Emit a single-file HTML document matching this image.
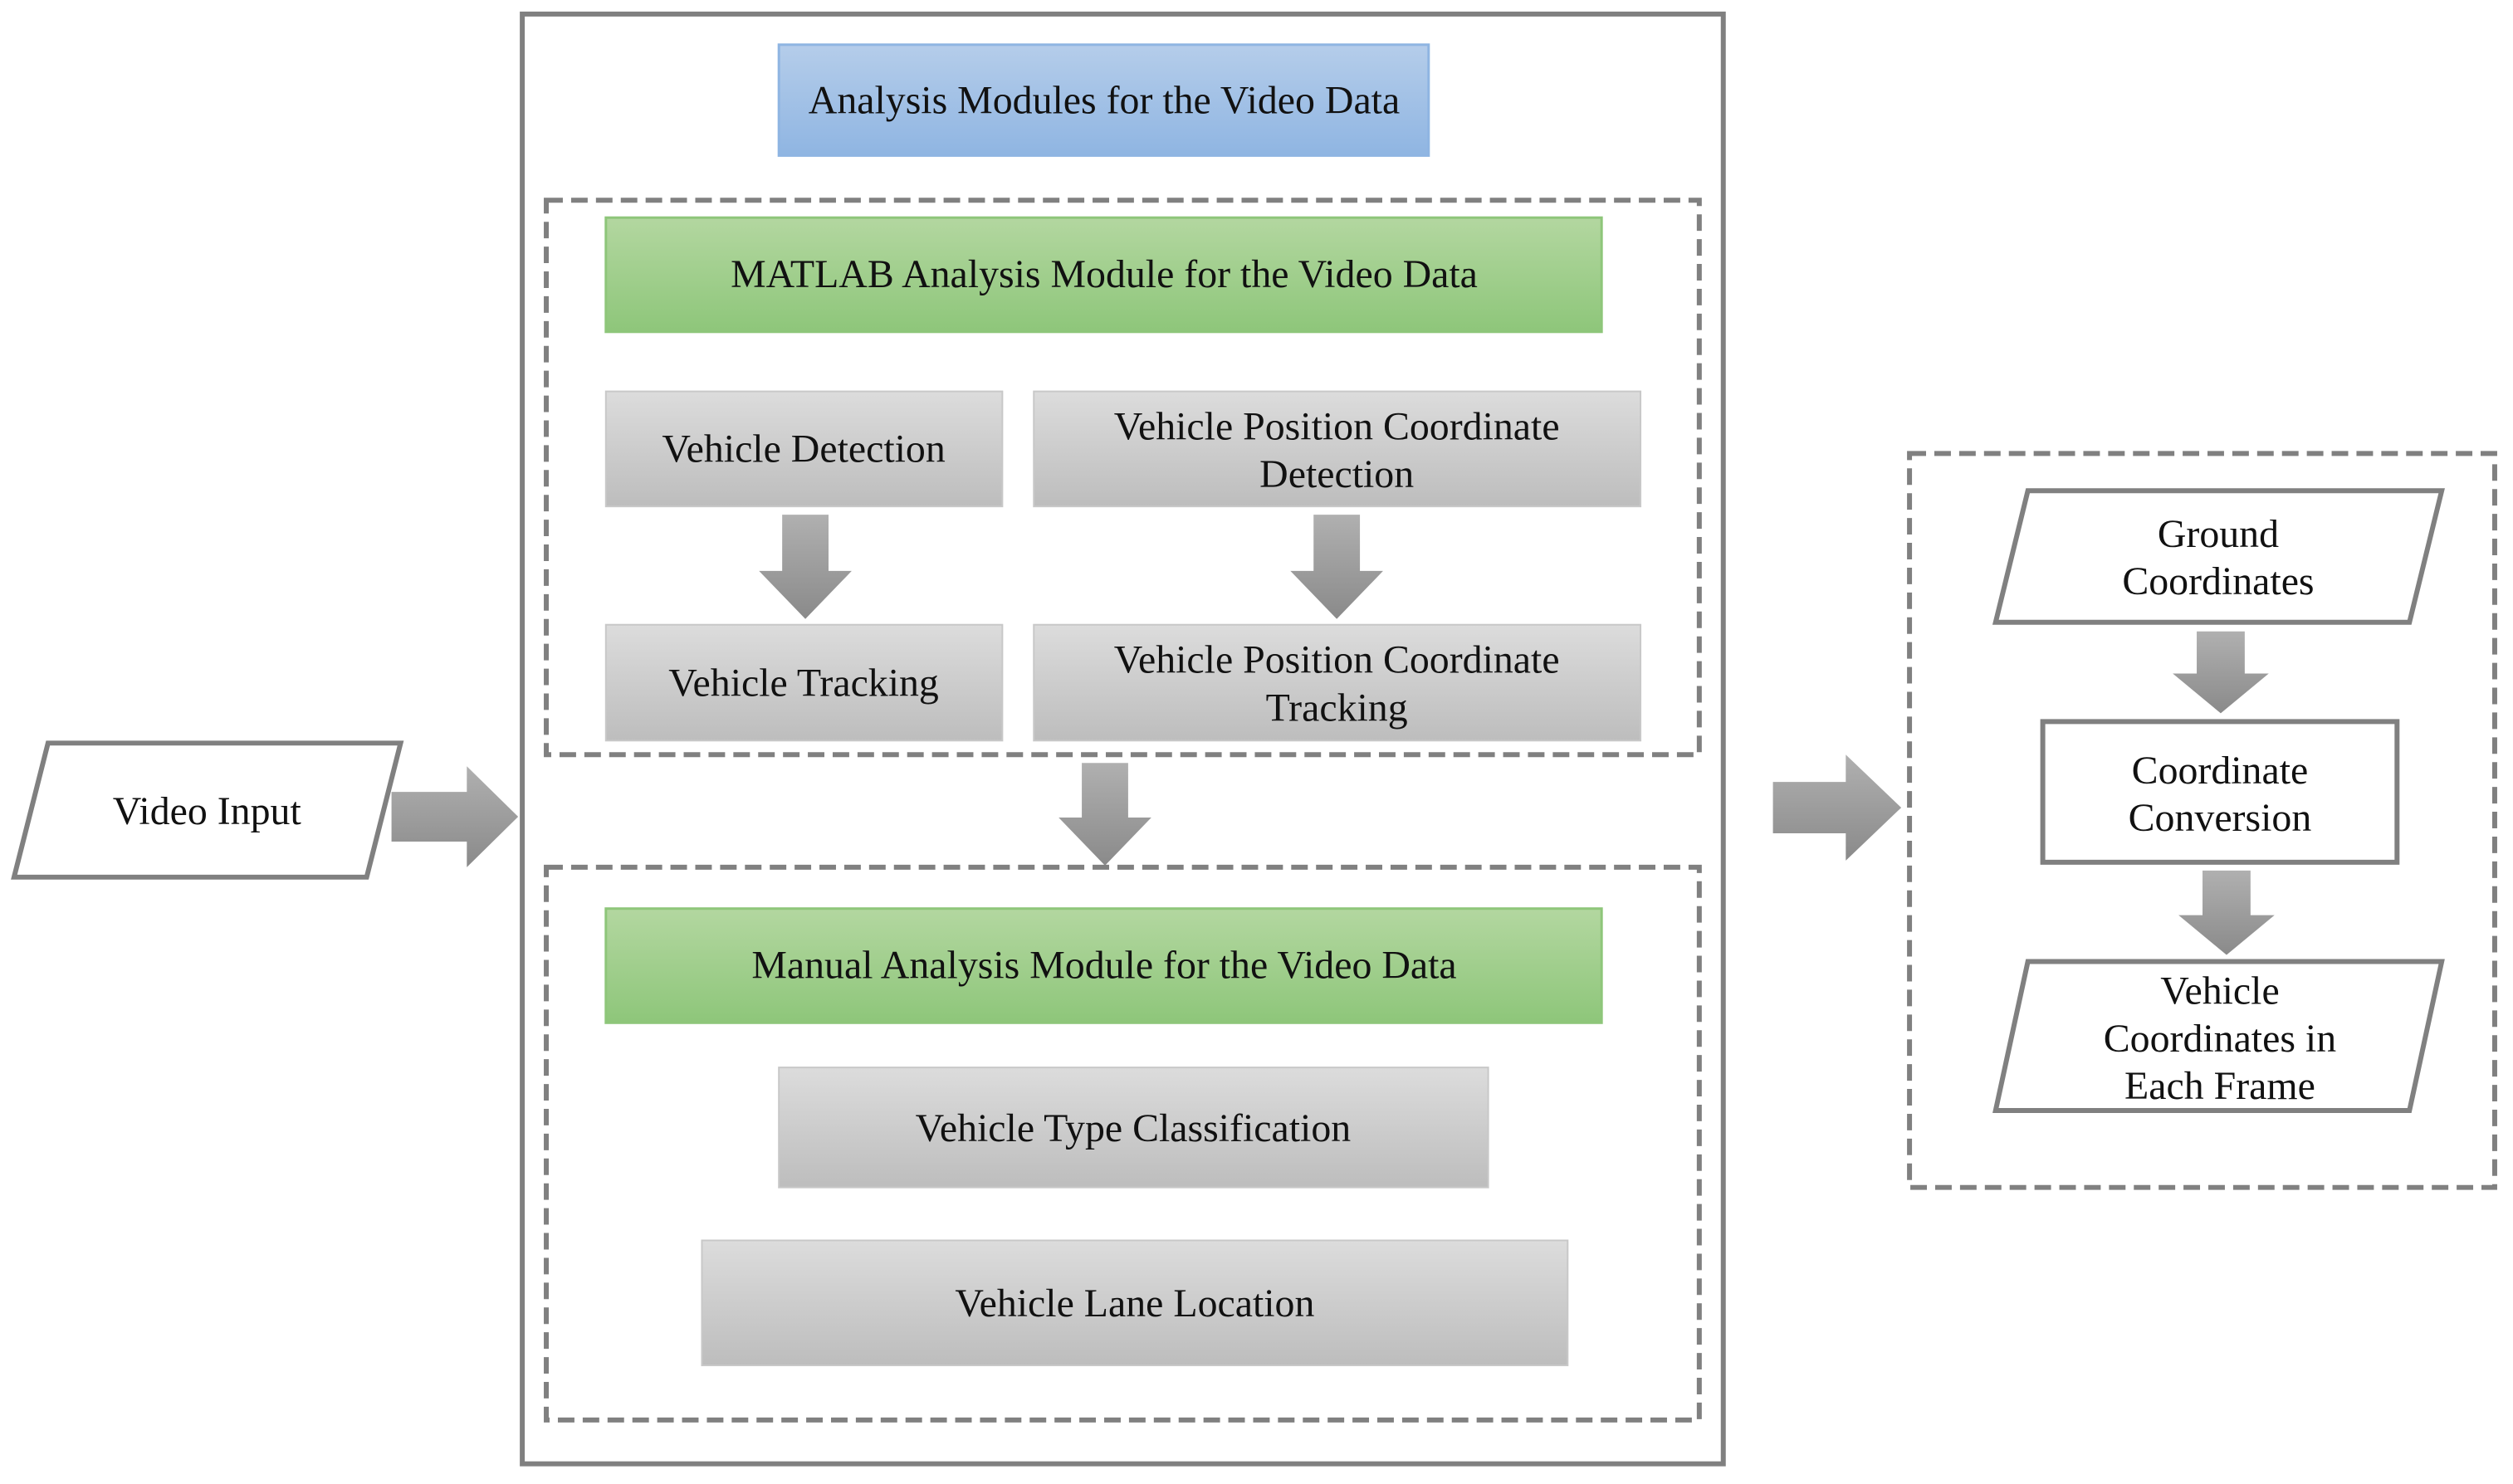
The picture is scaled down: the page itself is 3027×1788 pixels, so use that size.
<!DOCTYPE html>
<html><head><meta charset="utf-8"><style>
html,body{margin:0;padding:0;background:#fff;}
svg text{font-family:"Liberation Serif",serif;font-size:48px;fill:#111;text-anchor:middle;}
</style></head><body>
<svg width="3027" height="1783" viewBox="0 0 3027 1783" xmlns="http://www.w3.org/2000/svg">
<defs>
<linearGradient id="gr" x1="0" y1="0" x2="0" y2="1"><stop offset="0" stop-color="#dcdcdc"/><stop offset="1" stop-color="#bdbdbd"/></linearGradient>
<linearGradient id="gn" x1="0" y1="0" x2="0" y2="1"><stop offset="0" stop-color="#b3d7a0"/><stop offset="1" stop-color="#8ec67a"/></linearGradient>
<linearGradient id="bl" x1="0" y1="0" x2="0" y2="1"><stop offset="0" stop-color="#b5cdea"/><stop offset="1" stop-color="#8fb5e2"/></linearGradient>
<linearGradient id="ar" x1="0" y1="0" x2="0" y2="1"><stop offset="0" stop-color="#b0b0b0"/><stop offset="1" stop-color="#8a8a8a"/></linearGradient>
</defs>
<g transform="scale(0.997)">
<rect x="631" y="17" width="1451" height="1752" fill="#fff" stroke="#808080" stroke-width="6"/>
<rect x="941" y="54" width="785" height="134" fill="url(#bl)" stroke="#8fb5e2" stroke-width="3"/>
<text x="1334" y="137">Analysis Modules for the Video Data</text>
<rect x="660" y="242" width="1393" height="670" fill="none" stroke="#808080" stroke-width="6" stroke-dasharray="20,10"/>
<rect x="732" y="263" width="1203" height="138" fill="url(#gn)" stroke="#8ec67a" stroke-width="3"/>
<text x="1334" y="347">MATLAB Analysis Module for the Video Data</text>
<rect x="732" y="473" width="479" height="139" fill="url(#gr)" stroke="#c8c8c8" stroke-width="2"/>
<text x="971" y="558">Vehicle Detection</text>
<rect x="1249" y="473" width="733" height="139" fill="url(#gr)" stroke="#c8c8c8" stroke-width="2"/>
<text x="1615" y="531">Vehicle Position Coordinate</text>
<text x="1615" y="589">Detection</text>
<rect x="732" y="755" width="479" height="140" fill="url(#gr)" stroke="#c8c8c8" stroke-width="2"/>
<text x="971" y="841">Vehicle Tracking</text>
<rect x="1249" y="755" width="733" height="140" fill="url(#gr)" stroke="#c8c8c8" stroke-width="2"/>
<text x="1615" y="813">Vehicle Position Coordinate</text>
<text x="1615" y="871">Tracking</text>
<polygon points="945,622 1001,622 1001,690 1029,690 973,748 917,690 945,690" fill="url(#ar)"/>
<polygon points="1587,622 1643,622 1643,690 1671,690 1615,748 1559,690 1587,690" fill="url(#ar)"/>
<polygon points="1307,922 1363,922 1363,988 1391,988 1335,1046 1279,988 1307,988" fill="url(#ar)"/>
<rect x="660" y="1048" width="1393" height="668" fill="none" stroke="#808080" stroke-width="6" stroke-dasharray="20,10"/>
<rect x="732" y="1098" width="1203" height="138" fill="url(#gn)" stroke="#8ec67a" stroke-width="3"/>
<text x="1334" y="1182">Manual Analysis Module for the Video Data</text>
<rect x="941" y="1290" width="857" height="145" fill="url(#gr)" stroke="#c8c8c8" stroke-width="2"/>
<text x="1369" y="1379">Vehicle Type Classification</text>
<rect x="848" y="1499" width="1046" height="151" fill="url(#gr)" stroke="#c8c8c8" stroke-width="2"/>
<text x="1371" y="1591">Vehicle Lane Location</text>
<polygon points="58,898 484,898 443,1060 17,1060" fill="#fff" stroke="#808080" stroke-width="6"/>
<text x="250" y="996">Video Input</text>
<polygon points="473,957 564,957 564,926 626,987 564,1048 564,1017 473,1017" fill="url(#ar)"/>
<polygon points="2142,945 2230,945 2230,912 2297,976 2230,1040 2230,1007 2142,1007" fill="url(#ar)"/>
<rect x="2307" y="548" width="707" height="887" fill="none" stroke="#808080" stroke-width="6" stroke-dasharray="20,10"/>
<polygon points="2450,593 2950,593 2911,752 2411,752" fill="#fff" stroke="#808080" stroke-width="6"/>
<text x="2680" y="661">Ground</text>
<text x="2680" y="718">Coordinates</text>
<polygon points="2654,763 2712,763 2712,814 2741,814 2683,862 2625,814 2654,814" fill="url(#ar)"/>
<rect x="2468" y="872" width="428" height="170" fill="#fff" stroke="#808080" stroke-width="6"/>
<text x="2682" y="947">Coordinate</text>
<text x="2682" y="1004">Conversion</text>
<polygon points="2661,1052 2719,1052 2719,1106 2748,1106 2690,1154 2632,1106 2661,1106" fill="url(#ar)"/>
<polygon points="2450,1162 2950,1162 2911,1342 2411,1342" fill="#fff" stroke="#808080" stroke-width="6"/>
<text x="2682" y="1213">Vehicle</text>
<text x="2682" y="1271">Coordinates in</text>
<text x="2682" y="1328">Each Frame</text>
</g>
</svg>
</body></html>
